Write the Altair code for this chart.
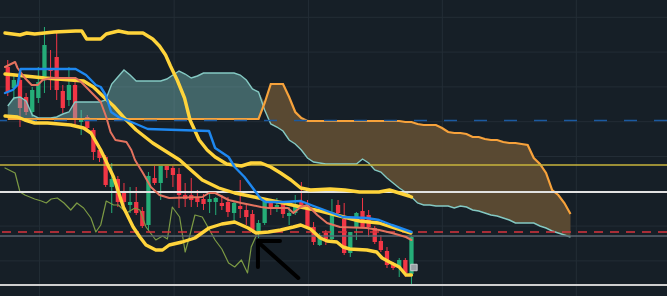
import altair as alt
import pandas as pd

# ---------------- candles (price units) ----------------
opens = [229, 208, 216, 199, 184, 198, 219, 227, 239, 205, 196, 211, 174, 179, 166, 146, 139, 109, 117, 105,
         91, 94, 85, 71, 118, 113, 130, 128, 122, 101, 101, 99, 97, 94, 94, 93, 94, 83, 90, 86,
         82, 65, 73, 93, 89, 92, 80, 83, 94, 88, 69, 51, 63, 57, 91, 77, 43, 69, 85, 81,
         68, 55, 45, 31, 29, 36, 22]
closes = [204, 216, 188, 184, 206, 214, 251, 225, 206, 188, 211, 178, 178, 168, 144, 138, 111, 117, 94, 94,
          94, 83, 70, 120, 113, 130, 126, 121, 101, 97, 96, 94, 92, 97, 98, 90, 84, 93, 87, 79,
          66, 73, 95, 89, 91, 82, 83, 92, 91, 69, 54, 61, 57, 81, 83, 43, 64, 83, 69, 69,
          54, 46, 31, 28, 36, 23, 59]
highs = [236, 223, 218, 203, 209, 229, 269, 246, 264, 211, 229, 216, 186, 181, 168, 151, 141, 133, 120, 113,
         109, 109, 89, 124, 130, 130, 130, 130, 128, 113, 118, 106, 102, 104, 99, 101, 99, 94, 116, 93,
         86, 76, 98, 94, 98, 94, 89, 101, 114, 96, 74, 63, 66, 97, 96, 93, 64, 84, 98, 86,
         70, 61, 49, 34, 38, 38, 60]
lows = [200, 196, 169, 181, 179, 193, 203, 206, 196, 183, 190, 169, 161, 164, 136, 134, 109, 83, 89, 88,
        83, 81, 68, 66, 111, 96, 118, 109, 88, 89, 89, 89, 86, 83, 81, 86, 79, 73, 78, 71,
        63, 58, 71, 81, 84, 78, 71, 81, 89, 68, 51, 50, 51, 54, 81, 41, 39, 56, 69, 59,
        52, 44, 28, 26, 19, 19, 11]

# ---------------- ichimoku cloud (index 0..92) ----------------
span_a = [190, 198, 199, 195, 181, 178, 178, 178, 179, 182,
          184, 194, 194, 194, 194, 194, 196, 212, 219, 226,
          221, 215, 215, 215, 215, 215, 217, 221, 225, 222,
          218, 220, 223, 223, 223, 223, 223, 223, 221, 216,
          207, 204, 186, 172, 169, 165, 156, 152, 146, 138,
          134, 133, 132, 132, 132, 132, 132, 132, 137, 133,
          126, 124, 118, 113, 108, 104, 99, 93, 91, 91,
          90, 90, 90, 88, 90, 89, 86, 85, 83, 81,
          80, 78, 76, 73, 73, 73, 73, 70, 68, 65,
          63, 61, 59]
span_b = [177, 177, 177, 177, 177, 177, 177, 177, 177, 177,
          177, 177, 177, 177, 177, 177, 177, 177, 177, 177,
          177, 177, 177, 177, 177, 177, 177, 177, 177, 177,
          177, 177, 177, 177, 177, 177, 177, 177, 177, 177,
          177, 177, 193, 212, 212, 212, 199, 184, 178, 175,
          175, 175, 175, 175, 175, 175, 175, 175, 175, 175,
          175, 175, 175, 175, 175, 174, 174, 172, 171, 171,
          171, 168, 164, 163, 163, 162, 159, 159, 157, 156,
          156, 154, 153, 153, 152, 151, 138, 132, 123, 106,
          101, 93, 82]

# ---------------- indicator lines (bar index, price) ----------------
bb_up_x = [-0.45, 2.0, 3.1, 4.4, 7.6, 11.1, 12.1, 12.9, 15.2, 16.1, 18.1, 19.7, 22.1, 23.7, 24.8, 25.8, 26.6, 27.7,
           28.9, 29.8, 31.3, 32.6, 33.9, 35.8, 38.2, 39.8, 41.4, 43.0, 44.6, 46.3, 47.9, 49.5, 52.7, 55.1, 57.5,
           60.7, 62.4, 64.0, 65.6, 66.0]
bb_up_y = [263, 261, 263, 262, 264, 265, 265, 257, 257, 262, 265, 263, 263, 257, 250, 241, 230, 216,
           198, 176, 156, 146, 139, 132, 130, 133, 133, 129, 123, 116, 108, 106, 107, 106, 104,
           104, 106, 103, 100, 99]
bb_mid_x = [-0.45, 2.8, 6.0, 10.3, 12.4, 14.0, 15.7, 17.3, 18.9, 21.0, 23.7, 28.1, 31.8, 34.5, 37.1, 40.3, 42.6,
            45.1, 47.9, 51.1, 54.3, 57.5, 60.7, 63.2, 65.9]
bb_mid_y = [222, 220, 218, 216, 215, 209, 199, 190, 179, 166, 153, 136, 116, 108, 103, 99, 96,
            93, 89, 85, 80, 75, 73, 68, 63]
bb_low_x = [-0.45, 1.6, 2.8, 4.4, 6.5, 10.3, 12.4, 13.6, 15.2, 17.3, 18.9, 20.5, 21.6, 22.6, 24.2, 25.3, 26.4,
            28.5, 30.6, 32.9, 35.0, 37.1, 39.3, 40.6, 42.6, 44.6, 46.7, 47.9, 49.5, 51.1, 52.2, 53.8, 54.8,
            55.9, 58.7, 60.3, 61.2, 62.4, 64.0, 65.1, 66.0]
bb_low_y = [180, 179, 176, 173, 173, 171, 168, 163, 146, 119, 89, 69, 59, 51, 46, 46, 51,
            54, 58, 68, 72, 74, 68, 63, 64, 66, 69, 71, 67, 58, 55, 54, 49,
            47, 46, 44, 38, 34, 29, 21, 21]
blue_x = [-0.45, 0.8, 1.6, 2.1, 11.1, 12.8, 14.4, 15.2, 16.0, 16.9, 18.1, 19.4, 21.0, 22.9, 32.9, 33.9, 36.1,
          37.1, 38.7, 40.3, 41.4, 42.2, 45.1, 47.9, 50.0, 52.2, 54.8, 58.7, 60.7, 62.8, 65.1, 66.0]
blue_y = [203, 206, 211, 227, 227, 221, 211, 209, 201, 184, 179, 176, 172, 167, 165, 148, 139,
          129, 119, 106, 97, 94, 94, 95, 90, 85, 79, 78, 76, 71, 66, 64]
salmon_x = [-0.45, 1.2, 1.6, 2.8, 3.9, 4.9, 5.7, 7.1, 11.1, 12.0, 13.6, 15.2, 16.1, 16.8, 17.6, 19.4, 20.2,
            20.8, 22.1, 23.4, 24.8, 26.4, 31.8, 32.9, 33.9, 36.1, 38.2, 39.8, 41.4, 42.6, 45.8, 46.7,
            47.9, 49.0, 50.6, 52.2, 54.3, 58.7, 60.7, 62.8, 65.1, 66.0]
salmon_y = [229, 234, 228, 218, 211, 211, 216, 218, 218, 214, 204, 194, 179, 164, 156, 154, 146,
            136, 123, 109, 101, 98, 99, 103, 103, 96, 93, 91, 89, 88, 88, 83,
            89, 91, 81, 73, 69, 68, 66, 63, 59, 56]
lag_x = [-0.45, 1.2, 2.0, 2.8, 4.4, 5.5, 6.3, 7.1, 8.1, 9.2, 10.3, 11.3, 12.4, 13.6, 14.4, 15.2, 16.1, 17.3,
         18.1, 19.4, 20.8, 21.6, 22.6, 24.2, 25.3, 26.1, 26.9, 28.1, 29.0, 29.7, 30.6, 31.8, 33.9, 35.0,
         36.1, 37.1, 38.2, 39.2, 39.8, 40.6]
lag_y = [128, 123, 104, 101, 97, 95, 93, 97, 98, 93, 86, 93, 88, 78, 64, 71, 95, 91,
         91, 83, 88, 86, 69, 56, 60, 57, 89, 79, 44, 59, 81, 79, 56, 47,
         33, 29, 36, 23, 49, 60]

# horizontal drawn levels (price)
levels = [175.5, 131, 104, 64, 60, 11]
# grid positions
grid_x = [5.2, 27.2, 49.15, 71.05, 92.95]
grid_y = [278.7, 243.9, 209.1, 174.3, 139.5, 104.7, 69.9, 35.1]
# arrow drawing (index, price)
arrow_x1 = [41.1, 40.9, 40.9]
arrow_y1 = [53, 55, 55]
arrow_x2 = [47.5, 40.9, 44.5]
arrow_y2 = [18, 29, 55]
marker_x = [66.4]
marker_y = [28.5]

# ---------------- chart ----------------
BG = "#161f27"
GREEN = "#25ad78"
RED = "#f23645"

xs = alt.Scale(domain=[-0.451, 106.96], nice=False, zero=False)
ys = alt.Scale(domain=[0, 296], nice=False, zero=False)


def X(f="i"):
    return alt.X(f"{f}:Q", scale=xs, axis=None)


def Y(f):
    return alt.Y(f"{f}:Q", scale=ys, axis=None)


candles = pd.DataFrame({"i": list(range(len(opens))), "open": opens, "close": closes,
                        "high": highs, "low": lows})
candles["dir"] = ["up" if c >= o else "down" for o, c in zip(opens, closes)]
col = alt.Color("dir:N", scale=alt.Scale(domain=["up", "down"], range=[GREEN, RED]), legend=None)

gv = alt.Chart(pd.DataFrame({"g": grid_x})).mark_rule(color="#232d36", strokeWidth=1).encode(x=X("g"))
gh = alt.Chart(pd.DataFrame({"g": grid_y})).mark_rule(color="#232d36", strokeWidth=1).encode(y=Y("g"))

wicks = alt.Chart(candles).mark_rule(strokeWidth=1).encode(x=X(), y=Y("low"), y2="high", color=col)
bodies = alt.Chart(candles).mark_bar(width=4.3).encode(x=X(), y=Y("open"), y2="close", color=col)

cloud = pd.DataFrame({"i": list(range(len(span_a))), "a": span_a, "b": span_b})
cloud["top"] = cloud[["a", "b"]].max(axis=1)
teal = alt.Chart(cloud).mark_area(color="#7ec4c0", opacity=0.42).encode(x=X(), y=Y("top"), y2="b")
brown = alt.Chart(cloud).mark_area(color="#5c4a33", opacity=0.97).encode(x=X(), y=Y("top"), y2="a")
line_a = alt.Chart(cloud).mark_line(color="#84c9c3", strokeWidth=1.4).encode(x=X(), y=Y("a"))
line_b = alt.Chart(cloud).mark_line(color="#f7a23b", strokeWidth=2.2).encode(x=X(), y=Y("b"))


def line(xv, yv, color, w):
    df = pd.DataFrame({"i": xv, "p": yv})
    return alt.Chart(df).mark_line(color=color, strokeWidth=w, strokeJoin="round",
                                   strokeCap="round").encode(x=X(), y=Y("p"))


lag = line(lag_x, lag_y, "#7c9a44", 1.2)
up = line(bb_up_x, bb_up_y, "#ffd43b", 3.4)
mid = line(bb_mid_x, bb_mid_y, "#ffd43b", 3.4)
low = line(bb_low_x, bb_low_y, "#ffd43b", 3.4)
blue = line(blue_x, blue_y, "#1e88f0", 2.4)
salmon = line(salmon_x, salmon_y, "#e4735f", 2.0)

styles = [
    dict(color="#1b5aa0", strokeWidth=1.5, strokeDash=[13, 17]),
    dict(color="#c9b43c", strokeWidth=1.5),
    dict(color="#e2e2e2", strokeWidth=2),
    dict(color="#d8343e", strokeWidth=1.5, strokeDash=[9, 7]),
    dict(color="#5a6670", strokeWidth=1.5),
    dict(color="#cfcfcf", strokeWidth=2),
]
level_layers = [
    alt.Chart(pd.DataFrame({"p": [lv]})).mark_rule(**st).encode(y=Y("p"))
    for lv, st in zip(levels, styles)
]

arrow = alt.Chart(pd.DataFrame({"x1": arrow_x1, "y1": arrow_y1, "x2": arrow_x2, "y2": arrow_y2})).mark_rule(
    color="#000000", strokeWidth=4, strokeCap="round").encode(x=X("x1"), y=Y("y1"), x2="x2", y2="y2")
marker = alt.Chart(pd.DataFrame({"i": marker_x, "p": marker_y})).mark_square(
    size=42, color="#9aa0a6", opacity=1, stroke="#c8cbce", strokeWidth=1).encode(x=X(), y=Y("p"))

chart = alt.layer(
    gv, gh, wicks, bodies, teal, brown, line_a, line_b, lag,
    *level_layers, up, mid, low, salmon, blue, arrow, marker
).properties(
    width=667, height=296, padding=0,
    autosize=alt.AutoSizeParams(type="none"),
    background=BG,
).configure_view(stroke=None)

chart.save("out.html", embed_options={"renderer": "svg", "actions": False})
